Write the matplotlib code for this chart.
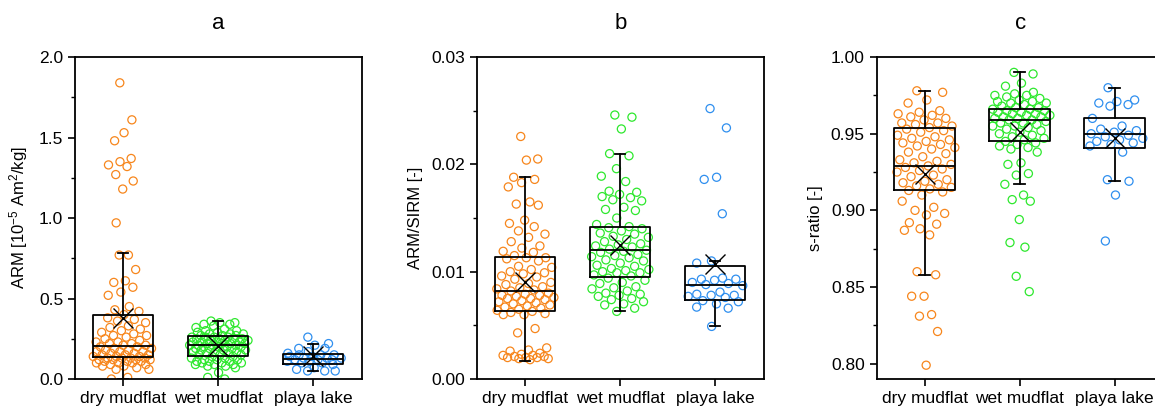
import numpy as np
import matplotlib.pyplot as plt
from matplotlib.ticker import MultipleLocator, FormatStrFormatter

plt.rcParams['font.family'] = ['Liberation Sans', 'DejaVu Sans']
plt.rcParams['mathtext.fontset'] = 'custom'
plt.rcParams['mathtext.rm'] = 'Liberation Sans'
plt.rcParams['mathtext.it'] = 'Liberation Sans:italic'

groups = ['dry mudflat', 'wet mudflat', 'playa lake']
colors = ['#F7861C', '#2EE82E', '#2F8FEF']

# ARM [10^-5 Am2/kg]
arm_dry = [1.84, 1.61, 1.53, 1.48, 1.37, 1.35, 1.33, 1.32, 1.27, 1.23, 1.18, 0.97,
           0.77, 0.77, 0.68, 0.61, 0.60, 0.57, 0.54, 0.52, 0.45, 0.43, 0.42, 0.40,
           0.38, 0.37, 0.36, 0.35, 0.33, 0.32, 0.31, 0.30, 0.29, 0.28, 0.27, 0.27,
           0.26, 0.25, 0.24, 0.23, 0.23, 0.22, 0.22, 0.21, 0.21, 0.20, 0.20, 0.19,
           0.19, 0.18, 0.18, 0.17, 0.17, 0.17, 0.16, 0.16, 0.15, 0.15, 0.15, 0.14,
           0.14, 0.14, 0.13, 0.13, 0.13, 0.13, 0.12, 0.12, 0.12, 0.12, 0.11, 0.11,
           0.11, 0.10, 0.10, 0.10, 0.09, 0.09, 0.08, 0.08, 0.07, 0.06, 0.06, 0.01, 0.0]
arm_wet = [0.36, 0.35, 0.35, 0.34, 0.34, 0.33, 0.32, 0.31, 0.30, 0.30, 0.29, 0.29,
           0.28, 0.28, 0.28, 0.27, 0.27, 0.27, 0.26, 0.26, 0.26, 0.26, 0.25, 0.25,
           0.25, 0.25, 0.24, 0.24, 0.24, 0.23, 0.23, 0.23, 0.23, 0.22, 0.22, 0.22,
           0.22, 0.21, 0.21, 0.21, 0.21, 0.20, 0.20, 0.20, 0.20, 0.19, 0.19, 0.19,
           0.18, 0.18, 0.18, 0.17, 0.17, 0.17, 0.16, 0.16, 0.15, 0.15, 0.15, 0.14,
           0.14, 0.13, 0.13, 0.12, 0.12, 0.12, 0.11, 0.11, 0.11, 0.10, 0.10, 0.10,
           0.09, 0.09, 0.09, 0.08, 0.08, 0.07, 0.04, 0.01, 0.0]
arm_playa = [0.26, 0.22, 0.21, 0.19, 0.19, 0.17, 0.16, 0.15, 0.15, 0.15, 0.14, 0.14,
             0.13, 0.13, 0.13, 0.12, 0.12, 0.12, 0.11, 0.11, 0.10, 0.10, 0.09, 0.07,
             0.06, 0.05, 0.05, 0.05]
# box stats: q1, median, q3, whisker low, whisker high, mean
arm_box = [[0.135, 0.205, 0.395, 0.0, 0.78, 0.38],
           [0.145, 0.21, 0.265, 0.0, 0.36, 0.205],
           [0.095, 0.125, 0.155, 0.05, 0.215, 0.14]]

# ARM/SIRM
ratio_dry = [0.0226, 0.0205, 0.0204, 0.0188, 0.0186, 0.0183, 0.0179, 0.0165, 0.0163,
             0.0162, 0.0148, 0.0145, 0.0142, 0.0138, 0.0135, 0.0132, 0.0128, 0.0124,
             0.0122, 0.0119, 0.0118, 0.0115, 0.0113, 0.0113, 0.0112, 0.0110, 0.0105,
             0.0104, 0.0102, 0.0100, 0.0099, 0.0098, 0.0096, 0.0095, 0.0093, 0.0090,
             0.0089, 0.0088, 0.0086, 0.0085, 0.0084, 0.0083, 0.0082, 0.0080, 0.0079,
             0.0078, 0.0078, 0.0077, 0.0076, 0.0075, 0.0075, 0.0074, 0.0073, 0.0072,
             0.0071, 0.0070, 0.0069, 0.0068, 0.0067, 0.0066, 0.0065, 0.0064, 0.0063,
             0.0062, 0.0061, 0.0060, 0.0060, 0.0047, 0.0043, 0.0029, 0.0027, 0.0026,
             0.0024, 0.0023, 0.0022, 0.0022, 0.0021, 0.0021, 0.0020, 0.0020, 0.0020,
             0.0019, 0.0019, 0.0018]
ratio_wet = [0.0246, 0.0244, 0.0233, 0.0210, 0.0208, 0.0196, 0.0189, 0.0184, 0.0175,
             0.0174, 0.0172, 0.0170, 0.0169, 0.0167, 0.0166, 0.0160, 0.0158, 0.0157,
             0.0150, 0.0144, 0.0142, 0.0141, 0.0140, 0.0138, 0.0136, 0.0135, 0.0133,
             0.0132, 0.0130, 0.0128, 0.0126, 0.0125, 0.0124, 0.0123, 0.0121, 0.0120,
             0.0119, 0.0118, 0.0116, 0.0115, 0.0114, 0.0113, 0.0111, 0.0110, 0.0108,
             0.0106, 0.0105, 0.0103, 0.0102, 0.0101, 0.0100, 0.0099, 0.0099, 0.0097,
             0.0096, 0.0094, 0.0092, 0.0090, 0.0089, 0.0086, 0.0085, 0.0084, 0.0082,
             0.0080, 0.0079, 0.0078, 0.0077, 0.0075, 0.0074, 0.0072, 0.0070, 0.0069,
             0.0066, 0.0063]
ratio_playa = [0.0252, 0.0234, 0.0188, 0.0186, 0.0154, 0.0110, 0.0108, 0.0094, 0.0093,
               0.0093, 0.0092, 0.0090, 0.0089, 0.0088, 0.0087, 0.0081, 0.0079, 0.0078,
               0.0078, 0.0077, 0.0076, 0.0073, 0.0072, 0.0070, 0.0067, 0.0066, 0.0049]
ratio_box = [[0.0063, 0.0082, 0.0114, 0.0017, 0.0188, 0.0090],
             [0.0095, 0.0120, 0.0142, 0.0063, 0.0210, 0.0125],
             [0.0074, 0.0088, 0.0105, 0.0049, 0.0110, 0.0107]]

# s-ratio
s_dry = [0.978, 0.977, 0.972, 0.970, 0.965, 0.964, 0.963, 0.962, 0.961, 0.960, 0.959,
         0.957, 0.957, 0.956, 0.955, 0.954, 0.953, 0.952, 0.951, 0.949, 0.948, 0.947,
         0.946, 0.945, 0.944, 0.943, 0.942, 0.941, 0.940, 0.938, 0.937, 0.935, 0.933,
         0.932, 0.931, 0.930, 0.929, 0.928, 0.927, 0.926, 0.925, 0.923, 0.922, 0.920,
         0.919, 0.918, 0.917, 0.916, 0.915, 0.914, 0.913, 0.912, 0.910, 0.906, 0.902,
         0.900, 0.898, 0.897, 0.892, 0.891, 0.888, 0.887, 0.884, 0.860, 0.858, 0.844,
         0.844, 0.832, 0.831, 0.821, 0.799]
s_wet = [0.990, 0.989, 0.983, 0.981, 0.977, 0.976, 0.975, 0.975, 0.974, 0.973, 0.972,
         0.971, 0.971, 0.970, 0.970, 0.969, 0.968, 0.967, 0.967, 0.966, 0.966, 0.965,
         0.965, 0.964, 0.964, 0.963, 0.963, 0.962, 0.962, 0.961, 0.961, 0.960, 0.960,
         0.959, 0.959, 0.958, 0.957, 0.957, 0.956, 0.955, 0.955, 0.954, 0.953, 0.952,
         0.951, 0.950, 0.949, 0.948, 0.947, 0.946, 0.945, 0.944, 0.943, 0.942, 0.941,
         0.940, 0.938, 0.931, 0.930, 0.924, 0.923, 0.917, 0.910, 0.907, 0.906, 0.894,
         0.879, 0.876, 0.857, 0.847]
s_playa = [0.980, 0.972, 0.971, 0.970, 0.969, 0.968, 0.960, 0.955, 0.953, 0.952, 0.951,
           0.950, 0.949, 0.948, 0.947, 0.946, 0.945, 0.944, 0.943, 0.942, 0.938, 0.920,
           0.919, 0.910, 0.880]
s_box = [[0.913, 0.929, 0.954, 0.858, 0.978, 0.924],
         [0.945, 0.959, 0.966, 0.917, 0.990, 0.951],
         [0.941, 0.950, 0.960, 0.919, 0.980, 0.947]]


def spread(values, maxw=0.32):
    # deterministic beeswarm-ish offset: wider where points are dense
    v = np.asarray(values, float)
    q1, q3 = np.percentile(v, [25, 75])
    bw = 0.9 * min(v.std(), (q3 - q1) / 1.34) * len(v) ** -0.2
    dens = np.exp(-0.5 * ((v[:, None] - v[None, :]) / bw) ** 2).sum(axis=1)
    dens = dens / dens.max()
    u = ((np.arange(len(v)) * 0.618034 + 0.31) % 1.0) * 2 - 1
    return maxw * dens ** 0.35 * u


fig = plt.figure(figsize=(11.55, 4.07), dpi=100)
panels = [
    ('a', [arm_dry, arm_wet, arm_playa], arm_box, r'ARM [10$^{-5}$ Am$^{2}$/kg]',
     (0.0, 2.0), 0.5, 0.25, '%.1f', 0.0649),
    ('b', [ratio_dry, ratio_wet, ratio_playa], ratio_box, 'ARM/SIRM [-]',
     (0.0, 0.03), 0.01, 0.005, '%.2f', 0.413),
    ('c', [s_dry, s_wet, s_playa], s_box, 's-ratio [-]',
     (0.790, 1.0), 0.05, 0.025, '%.2f', 0.759),
]

for title, data, box, ylabel, ylim, major, minor, fmt, left in panels:
    ax = fig.add_axes([left, 0.0688, 0.2485, 0.791])
    pos = [1, 2, 3]
    for p, vals, c in zip(pos, data, colors):
        ax.scatter(p + spread(vals), vals, s=34, facecolors='none',
                   edgecolors=c, linewidths=0.9, zorder=1)
    stats = []
    for b in box:
        stats.append(dict(q1=b[0], med=b[1], q3=b[2], whislo=b[3], whishi=b[4],
                          mean=b[5], fliers=[]))
    ax.bxp(stats, positions=pos, widths=0.64, capwidths=0.11, showmeans=True,
           showfliers=False, zorder=3,
           boxprops=dict(color='black', linewidth=1.3),
           whiskerprops=dict(color='black', linewidth=1.3),
           capprops=dict(color='black', linewidth=1.3),
           medianprops=dict(color='black', linewidth=1.3),
           meanprops=dict(marker='x', markeredgecolor='black', markersize=15,
                          markeredgewidth=1.0))
    ax.set_xlim(0.495, 3.515)
    ax.set_ylim(*ylim)
    ax.set_xticks(pos)
    ax.set_xticklabels(groups)
    ax.yaxis.set_major_locator(MultipleLocator(major))
    ax.yaxis.set_minor_locator(MultipleLocator(minor))
    ax.yaxis.set_major_formatter(FormatStrFormatter(fmt))
    ax.tick_params(axis='both', which='major', direction='out', length=5,
                   width=1.2, labelsize=12.5)
    ax.tick_params(axis='y', which='minor', direction='out', length=3, width=1.0)
    ax.tick_params(axis='x', which='minor', bottom=False)
    for s in ax.spines.values():
        s.set_linewidth(1.3)
    ax.set_ylabel(ylabel, fontsize=12, labelpad=6)
    ax.set_title(title, fontsize=16, pad=20)

fig.savefig('out.png', dpi=100)
